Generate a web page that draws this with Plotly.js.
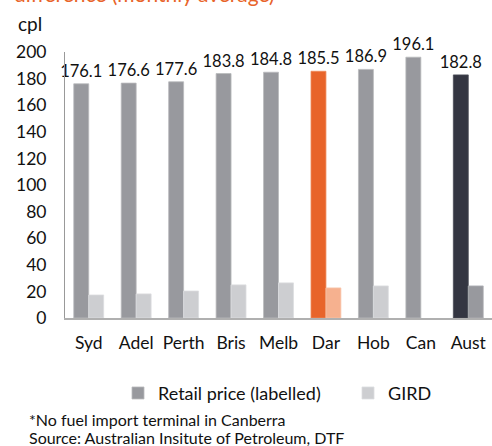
<!DOCTYPE html>
<html><head><meta charset="utf-8">
<script src="https://cdn.plot.ly/plotly-3.0.1.min.js"></script>
<style>html,body{margin:0;padding:0;background:#fff}#chart{width:492px;height:446px}</style>
</head><body><div id="chart"></div>
<script>
const categories = ["Syd","Adel","Perth","Bris","Melb","Dar","Hob","Can","Aust"];
const retailPrice = [176.1,176.6,177.6,183.8,184.8,185.5,186.9,196.1,182.8];
const gird = [17.3,18.1,20.3,24.9,26.4,22.6,24.1,null,24.1];
const yTicks = [0,20,40,60,80,100,120,140,160,180,200];

const gray = "#98999e", light = "#cdced1", orange = "#e8642a", orangeLight = "#f6b18f", dark = "#343642";
const retailColors = categories.map(c => c === "Dar" ? orange : (c === "Aust" ? dark : gray));
const girdColors = categories.map(c => c === "Dar" ? orangeLight : (c === "Aust" ? gray : light));
const retailEdge = categories.map(c => c === "Dar" ? "#ee8a5a" : (c === "Aust" ? "#4a4d57" : "#b9babd"));
const girdEdge = categories.map(c => c === "Dar" ? "#f8c4aa" : (c === "Aust" ? "#b0b1b5" : "#dcdde0"));

const font = "Lato, 'Noto Sans', sans-serif";
const ink = "#111";
const traces = [
  {type:"bar", name:"Retail price (labelled)", x:categories, y:retailPrice, legend:"legend",
   marker:{color:retailColors, line:{color:retailEdge, width:0.8}}, text:retailPrice.map(v=>v.toFixed(1)), textposition:"outside",
   constraintext:"none", cliponaxis:false, textfont:{family:font,size:16.5,color:ink}, hoverinfo:"none"},
  {type:"bar", name:"GIRD", x:categories, y:gird, legend:"legend2",
   marker:{color:girdColors, line:{color:girdEdge, width:0.8}}, hoverinfo:"none"}
];
const legendBase = {orientation:"h", xanchor:"left", yanchor:"middle", y:-0.283,
  font:{family:font,size:18,color:ink}, bgcolor:"rgba(0,0,0,0)", borderwidth:0};
const layout = {
  width:492, height:446, margin:{l:65,r:0,t:52,b:128},
  paper_bgcolor:"#fff", plot_bgcolor:"#fff",
  font:{family:font,size:18,color:ink},
  barmode:"group", bargap:0.37, bargroupgap:0,
  showlegend:true,
  legend:Object.assign({}, legendBase, {x:(118-65)/427}),
  legend2:Object.assign({}, legendBase, {x:(348-65)/427}),
  xaxis:{showline:true, linecolor:"#b0b0b0", linewidth:2, ticks:"", showgrid:false,
         tickfont:{family:font,size:17.5,color:ink}, ticklabelstandoff:8},
  yaxis:{range:[0,200], tickvals:yTicks, ticktext:yTicks.map(String), showline:true, linecolor:"#999",
         linewidth:1, ticks:"", showgrid:false, zeroline:false,
         tickfont:{family:font,size:17.5,color:ink}, ticklabelstandoff:14},
  annotations:[
    {text:"difference (monthly average)", xref:"paper", yref:"paper", x:-0.125, y:1.22, xanchor:"left", yanchor:"middle",
     showarrow:false, font:{family:font,size:21,color:"#e8642a"}},
    {text:"cpl", xref:"paper", yref:"paper", x:-0.115, y:1.109, xanchor:"left", yanchor:"middle",
     showarrow:false, font:{family:font,size:19,color:ink}},
    {text:"*No fuel import terminal in Canberra", xref:"paper", yref:"paper", x:-0.09, y:-0.380, xanchor:"left", yanchor:"middle",
     showarrow:false, font:{family:font,size:16,color:ink}},
    {text:"Source: Australian Insitute of Petroleum, DTF", xref:"paper", yref:"paper", x:-0.09, y:-0.449, xanchor:"left", yanchor:"middle",
     showarrow:false, font:{family:font,size:16,color:ink}}
  ]
};
Plotly.newPlot("chart", traces, layout, {displayModeBar:false, staticPlot:true});
</script></body></html>
